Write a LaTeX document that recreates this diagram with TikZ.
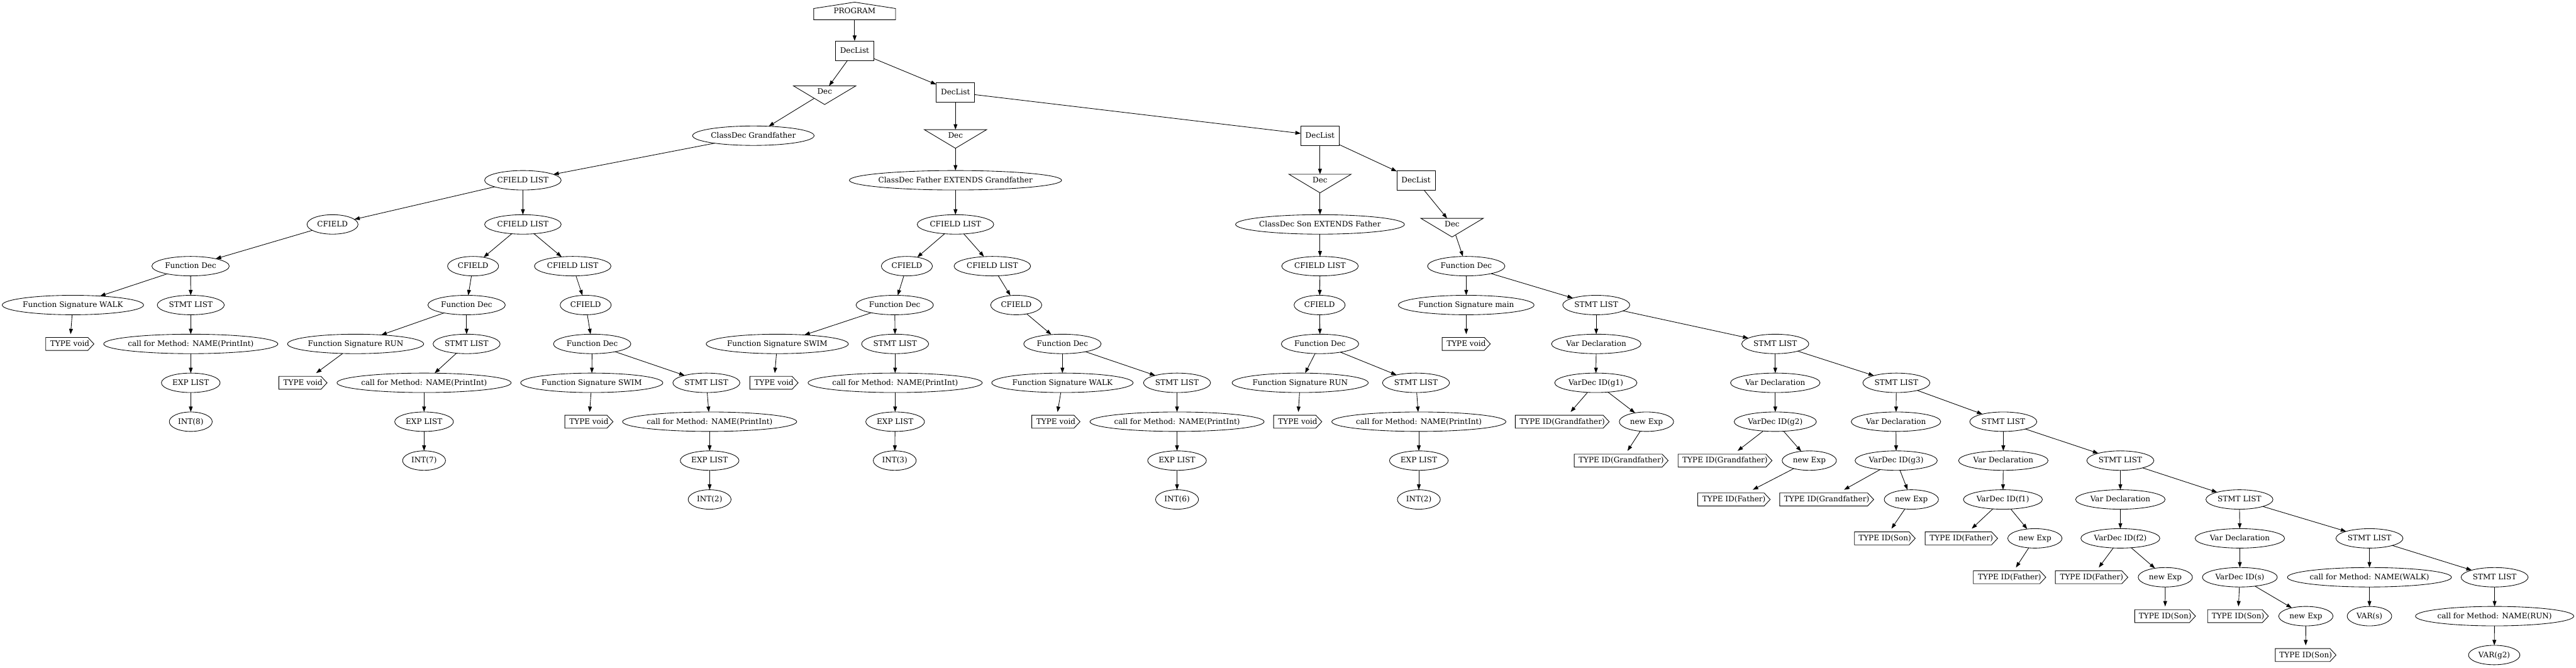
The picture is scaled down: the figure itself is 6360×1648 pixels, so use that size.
\documentclass[tikz,border=0pt]{standalone}
\usepackage{fontspec}
\setmainfont{DejaVu Serif}
\usetikzlibrary{arrows.meta,shapes.geometric}
\pgfdeclarelayer{edgelayer}
\pgfdeclarelayer{trilayer}
\pgfsetlayers{edgelayer,trilayer,main}
\tikzset{
  base/.style={inner sep=0pt, outer sep=0pt, line width=1pt,
    font=\fontsize{14pt}{16pt}\selectfont, text height=11pt, text depth=2.4pt,
    execute at begin node={\hbox to 0pt\bgroup\hss},
    execute at end node={\hss\egroup}},
  wd/.style={minimum width=#1*0.75pt},
  ell/.style={base, draw, ellipse, minimum height=36pt},
  listbox/.style={base, draw, rectangle, minimum height=36pt, minimum width=71.25pt},
  housebox/.style={base, rectangle, minimum height=32.5pt, minimum width=151.5pt},
  tribox/.style={base, rectangle, minimum height=22.5pt, minimum width=115.5pt},
  cdsbox/.style={base, rectangle, minimum height=36pt},
  edge/.style={line width=1pt, -{Triangle[length=10pt,width=7pt]}},
  shapeline/.style={line width=1pt, fill=white, line join=miter},
}
\newcommand\cdsshape[1]{\draw[shapeline] ([yshift=-6pt]#1.north west) -- ([xshift=-11.25pt,yshift=-6pt]#1.north east) -- (#1.east) -- ([xshift=-11.25pt,yshift=6pt]#1.south east) -- ([yshift=6pt]#1.south west) -- cycle;}
\newcommand\trishape[1]{\draw[shapeline] (#1.north west) -- (#1.north east) -- ([yshift=-12pt]#1.south) -- cycle;}
\begin{document}
\begin{tikzpicture}[x=0.75pt,y=-0.75pt]
\useasboundingbox (0,0) rectangle (6360,1648);
% rank 0-5
\node[housebox] (prog) at (2110,27) {PROGRAM};
\node[listbox] (dl1) at (2110,125) {DecList};
\node[tribox] (dec1) at (2036,227) {Dec};
\node[listbox] (dl2) at (2359,228) {DecList};
\node[ell,wd=300] (cgf) at (1860,335) {ClassDec Grandfather};
\node[tribox] (dec2) at (2359,335) {Dec};
\node[listbox] (dl3) at (3259,335) {DecList};
\node[ell,wd=189] (cflA) at (1291,445) {CFIELD LIST};
\node[ell,wd=524] (cfa) at (2359,445) {ClassDec Father EXTENDS Grandfather};
\node[tribox] (dec3) at (3259,445) {Dec};
\node[listbox] (dl4) at (3496,445) {DecList};
\node[ell,wd=126] (cfA1) at (821,554) {CFIELD};
\node[ell,wd=189] (cflA2) at (1291,554) {CFIELD LIST};
\node[ell,wd=189] (cflB) at (2359,554) {CFIELD LIST};
\node[ell,wd=417] (cso) at (3259,554) {ClassDec Son EXTENDS Father};
\node[tribox] (dec4) at (3585,554) {Dec};
% rank 6
\node[ell,wd=191] (fdA1) at (470.5,657) {Function Dec};
\node[ell,wd=126] (cfA2) at (1168,657) {CFIELD};
\node[ell,wd=189] (cflA3) at (1414,657) {CFIELD LIST};
\node[ell,wd=126] (cfB1) at (2239,657) {CFIELD};
\node[ell,wd=189] (cflB2) at (2450,657) {CFIELD LIST};
\node[ell,wd=189] (cflC) at (3259,657) {CFIELD LIST};
\node[ell,wd=191] (fdM) at (3620,657) {Function Dec};
% rank 7
\node[ell,wd=349] (fsA1) at (180,753) {Function Signature WALK};
\node[ell,wd=165.5] (slA1) at (471,753) {STMT LIST};
\node[ell,wd=191] (fdA2) at (1152,753) {Function Dec};
\node[ell,wd=126] (cfA3) at (1446,753) {CFIELD};
\node[ell,wd=191] (fdB1) at (2209,753) {Function Dec};
\node[ell,wd=126] (cfB2) at (2509,753) {CFIELD};
\node[ell,wd=126] (cfC) at (3258,753) {CFIELD};
\node[ell,wd=335] (fsM) at (3620,753) {Function Signature main};
\node[ell,wd=165.5] (s1) at (3941,753) {STMT LIST};
% rank 8
\node[cdsbox,wd=119] (tvA1) at (172.4,849) {TYPE void};
\node[ell,wd=430] (callA1) at (471,849) {call for Method: NAME(PrintInt)};
\node[ell,wd=336] (fsA2) at (878,849) {Function Signature RUN};
\node[ell,wd=165.5] (slA2) at (1152,849) {STMT LIST};
\node[ell,wd=191] (fdA3) at (1462,849) {Function Dec};
\node[ell,wd=351] (fsB1) at (1919,849) {Function Signature SWIM};
\node[ell,wd=165.5] (slB1) at (2210,849) {STMT LIST};
\node[ell,wd=191] (fdB2) at (2623,849) {Function Dec};
\node[ell,wd=191] (fdC) at (3259,849) {Function Dec};
\node[cdsbox,wd=119] (tvM) at (3620,849) {TYPE void};
\node[ell,wd=221] (vd1) at (3941,849) {Var Declaration};
\node[ell,wd=165.5] (s2) at (4383,849) {STMT LIST};
% rank 9
\node[ell,wd=145] (elA1) at (471,945) {EXP LIST};
\node[cdsbox,wd=119] (tvA2) at (748,945) {TYPE void};
\node[ell,wd=430] (callA2) at (1047,945) {call for Method: NAME(PrintInt)};
\node[ell,wd=351] (fsA3) at (1461,945) {Function Signature SWIM};
\node[ell,wd=165.5] (slA3) at (1744,945) {STMT LIST};
\node[cdsbox,wd=119] (tvB1) at (1911,945) {TYPE void};
\node[ell,wd=430] (callB1) at (2210,945) {call for Method: NAME(PrintInt)};
\node[ell,wd=349] (fsB2) at (2623,945) {Function Signature WALK};
\node[ell,wd=165.5] (slB2) at (2906,945) {STMT LIST};
\node[ell,wd=336] (fsC) at (3210,945) {Function Signature RUN};
\node[ell,wd=165.5] (slC) at (3496,945) {STMT LIST};
\node[ell,wd=203] (vdg1) at (3940,945) {VarDec ID(g1)};
\node[ell,wd=221] (vd2) at (4383,945) {Var Declaration};
\node[ell,wd=165.5] (s3) at (4682,945) {STMT LIST};
% rank 10
\node[ell,wd=106] (intA1) at (471,1041) {INT(8)};
\node[ell,wd=145] (elA2) at (1047,1041) {EXP LIST};
\node[cdsbox,wd=119] (tvA3) at (1454,1041) {TYPE void};
\node[ell,wd=430] (callA3) at (1752,1041) {call for Method: NAME(PrintInt)};
\node[ell,wd=145] (elB1) at (2210,1041) {EXP LIST};
\node[cdsbox,wd=119] (tvB2) at (2607,1041) {TYPE void};
\node[ell,wd=430] (callB2) at (2906,1041) {call for Method: NAME(PrintInt)};
\node[cdsbox,wd=119] (tvC) at (3204,1041) {TYPE void};
\node[ell,wd=430] (callC) at (3503,1041) {call for Method: NAME(PrintInt)};
\node[cdsbox,wd=232] (tg1) at (3857,1041) {TYPE ID(Grandfather)};
\node[ell,wd=134] (ne1) at (4065,1041) {new Exp};
\node[ell,wd=203] (vdg2) at (4383,1041) {VarDec ID(g2)};
\node[ell,wd=221] (vd3) at (4681,1041) {Var Declaration};
\node[ell,wd=165.5] (s4) at (4946,1041) {STMT LIST};
% rank 11
\node[ell,wd=106] (intA2) at (1047,1137) {INT(7)};
\node[ell,wd=145] (elA3) at (1752,1137) {EXP LIST};
\node[ell,wd=106] (intB1) at (2209,1137) {INT(3)};
\node[ell,wd=145] (elB2) at (2906,1137) {EXP LIST};
\node[ell,wd=145] (elC) at (3503,1137) {EXP LIST};
\node[cdsbox,wd=232] (tg1n) at (4002.6,1137) {TYPE ID(Grandfather)};
\node[cdsbox,wd=232] (tg2) at (4259,1137) {TYPE ID(Grandfather)};
\node[ell,wd=134] (ne2) at (4467,1137) {new Exp};
\node[ell,wd=203] (vdg3) at (4681.5,1137) {VarDec ID(g3)};
\node[ell,wd=221] (vd4) at (4946,1137) {Var Declaration};
\node[ell,wd=165.5] (s5) at (5235,1137) {STMT LIST};
% rank 12
\node[ell,wd=106] (intA3) at (1752,1233) {INT(2)};
\node[ell,wd=106] (intB2) at (2906,1233) {INT(6)};
\node[ell,wd=106] (intC) at (3503,1233) {INT(2)};
\node[cdsbox,wd=179] (tf2n) at (4281,1233) {TYPE ID(Father)};
\node[cdsbox,wd=232] (tg3) at (4510,1233) {TYPE ID(Grandfather)};
\node[ell,wd=134] (ne3) at (4719,1233) {new Exp};
\node[ell,wd=195] (vdf1) at (4945,1233) {VarDec ID(f1)};
\node[ell,wd=221] (vd5) at (5235,1233) {Var Declaration};
\node[ell,wd=165.5] (s6) at (5529,1233) {STMT LIST};
% rank 13
\node[cdsbox,wd=150] (ts3n) at (4653.6,1329) {TYPE ID(Son)};
\node[cdsbox,wd=179] (tf1) at (4842.5,1329) {TYPE ID(Father)};
\node[ell,wd=134] (ne4) at (5024,1329) {new Exp};
\node[ell,wd=195] (vdf2) at (5235,1329) {VarDec ID(f2)};
\node[ell,wd=221] (vd6) at (5530,1329) {Var Declaration};
\node[ell,wd=165.5] (s7) at (5850,1329) {STMT LIST};
% rank 14
\node[cdsbox,wd=179] (tf1n) at (4961.5,1425) {TYPE ID(Father)};
\node[cdsbox,wd=179] (tf2) at (5164,1425) {TYPE ID(Father)};
\node[ell,wd=134] (ne5) at (5346,1425) {new Exp};
\node[ell,wd=185] (vds) at (5530,1425) {VarDec ID(s)};
\node[ell,wd=405] (cw) at (5850,1425) {call for Method: NAME(WALK)};
\node[ell,wd=165.5] (s8) at (6159,1425) {STMT LIST};
% rank 15
\node[cdsbox,wd=150] (tf2ns) at (5345.5,1521) {TYPE ID(Son)};
\node[cdsbox,wd=150] (tss) at (5525.5,1521) {TYPE ID(Son)};
\node[ell,wd=134] (ne6) at (5693,1521) {new Exp};
\node[ell,wd=110] (vars) at (5850,1521) {VAR(s)};
\node[ell,wd=391] (cr) at (6159,1521) {call for Method: NAME(RUN)};
% rank 16
\node[cdsbox,wd=150] (tssn) at (5692.5,1617) {TYPE ID(Son)};
\node[ell,wd=127] (varg2) at (6158,1617) {VAR(g2)};

\begin{pgfonlayer}{trilayer}
\draw[shapeline] (prog.south west) -- (prog.south east) -- ([yshift=4.5pt]prog.east) -- (prog.north) -- ([yshift=4.5pt]prog.west) -- cycle;
\foreach \t in {dec1,dec2,dec3,dec4} {\trishape{\t}}
\foreach \c in {tvA1,tvM,tvA2,tvB1,tvA3,tvB2,tvC,tg1,tg1n,tg2,tf2n,tg3,ts3n,tf1,tf1n,tf2,tf2ns,tss,tssn} {\cdsshape{\c}}
\end{pgfonlayer}

\begin{pgfonlayer}{edgelayer}
\foreach \a/\b in {dec1/cgf,dec2/cfa,dec3/cso,dec4/fdM} {\draw[edge] (\a.center) -- (\b);}
\foreach \a/\b in {prog/dl1,dl1/dec1,dl1/dl2,cgf/cflA,cflA/cfA1,cflA/cflA2,cfA1/fdA1,fdA1/fsA1,fdA1/slA1,fsA1/tvA1,slA1/callA1,callA1/elA1,elA1/intA1,
  cflA2/cfA2,cflA2/cflA3,cfA2/fdA2,fdA2/fsA2,fdA2/slA2,fsA2/tvA2,slA2/callA2,callA2/elA2,elA2/intA2,
  cflA3/cfA3,cfA3/fdA3,fdA3/fsA3,fdA3/slA3,fsA3/tvA3,slA3/callA3,callA3/elA3,elA3/intA3,
  dl2/dec2,dl2/dl3,cfa/cflB,cflB/cfB1,cflB/cflB2,cfB1/fdB1,fdB1/fsB1,fdB1/slB1,fsB1/tvB1,slB1/callB1,callB1/elB1,elB1/intB1,
  cflB2/cfB2,cfB2/fdB2,fdB2/fsB2,fdB2/slB2,fsB2/tvB2,slB2/callB2,callB2/elB2,elB2/intB2,
  dl3/dec3,dl3/dl4,cso/cflC,cflC/cfC,cfC/fdC,fdC/fsC,fdC/slC,fsC/tvC,slC/callC,callC/elC,elC/intC,
  dl4/dec4,fdM/fsM,fdM/s1,fsM/tvM,s1/vd1,s1/s2,vd1/vdg1,vdg1/tg1,vdg1/ne1,ne1/tg1n,
  s2/vd2,s2/s3,vd2/vdg2,vdg2/tg2,vdg2/ne2,ne2/tf2n,
  s3/vd3,s3/s4,vd3/vdg3,vdg3/tg3,vdg3/ne3,ne3/ts3n,
  s4/vd4,s4/s5,vd4/vdf1,vdf1/tf1,vdf1/ne4,ne4/tf1n,
  s5/vd5,s5/s6,vd5/vdf2,vdf2/tf2,vdf2/ne5,ne5/tf2ns,
  s6/vd6,s6/s7,vd6/vds,vds/tss,vds/ne6,ne6/tssn,
  s7/cw,s7/s8,cw/vars,s8/cr,cr/varg2}
  {\draw[edge] (\a) -- (\b);}
\end{pgfonlayer}
\end{tikzpicture}
\end{document}
